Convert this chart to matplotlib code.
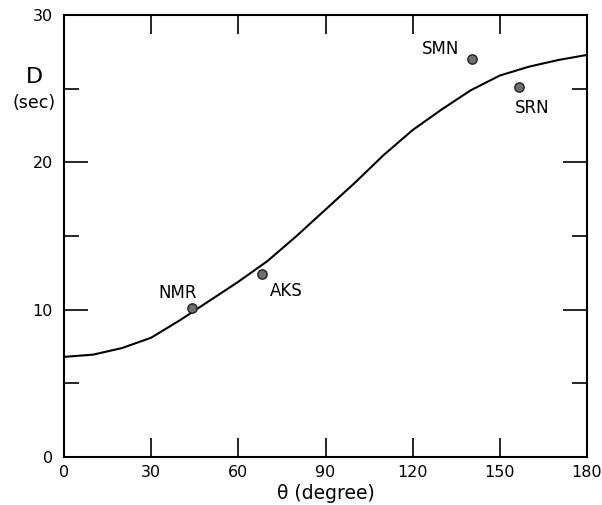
import numpy as np
import matplotlib.pyplot as plt

# curve
theta_curve = [0, 10, 20, 30, 40, 50, 60, 70, 80, 90, 100, 110, 120, 130, 140, 150, 160, 170, 180]
d_curve = [6.8, 6.95, 7.4, 8.1, 9.3, 10.6, 11.9, 13.3, 15.0, 16.8, 18.6, 20.5, 22.2, 23.6, 24.9, 25.9, 26.5, 26.95, 27.3]

# stations
stations = ['NMR', 'AKS', 'SMN', 'SRN']
theta_st = [44.2, 68.2, 140.3, 156.7]
d_st = [10.1, 12.45, 27.0, 25.1]
label_pos = [(39.2, 11.15), (76.4, 11.3), (129.7, 27.7), (161.0, 23.7)]

fig = plt.figure(figsize=(6.02, 5.05), dpi=100)
ax = fig.add_axes([0.1063, 0.095, 0.8688, 0.875])

ax.plot(theta_curve, d_curve, color='black', lw=1.5)
ax.scatter(theta_st, d_st, s=45, color='#6e6e6e', edgecolors='#222222', linewidths=1.0, zorder=3)
for name, (tx, ty) in zip(stations, label_pos):
    ax.text(tx, ty, name, ha='center', va='center', fontsize=12)

ax.set_xlim(0, 180)
ax.set_ylim(0, 30)
ax.set_xticks(np.arange(0, 181, 30))
ax.set_yticks([0, 10, 20, 30])
ax.set_yticks([5, 15, 25], minor=True)
ax.tick_params(axis='both', which='both', direction='in', top=True, right=True,
               labelsize=11.5, width=1.2)
ax.tick_params(axis='y', which='major', length=17, pad=8)
ax.tick_params(axis='y', which='minor', length=11)
ax.tick_params(axis='x', which='major', length=14, pad=6)
for sp in ax.spines.values():
    sp.set_linewidth(1.5)

fig.text(0.058, 0.8475, 'D', fontsize=16, ha='center', va='center')
fig.text(0.057, 0.796, '(sec)', fontsize=12.5, ha='center', va='center')
fig.text(0.542, 0.022, 'θ (degree)', fontsize=13.5, ha='center', va='center')

fig.savefig('out.png', dpi=100)
